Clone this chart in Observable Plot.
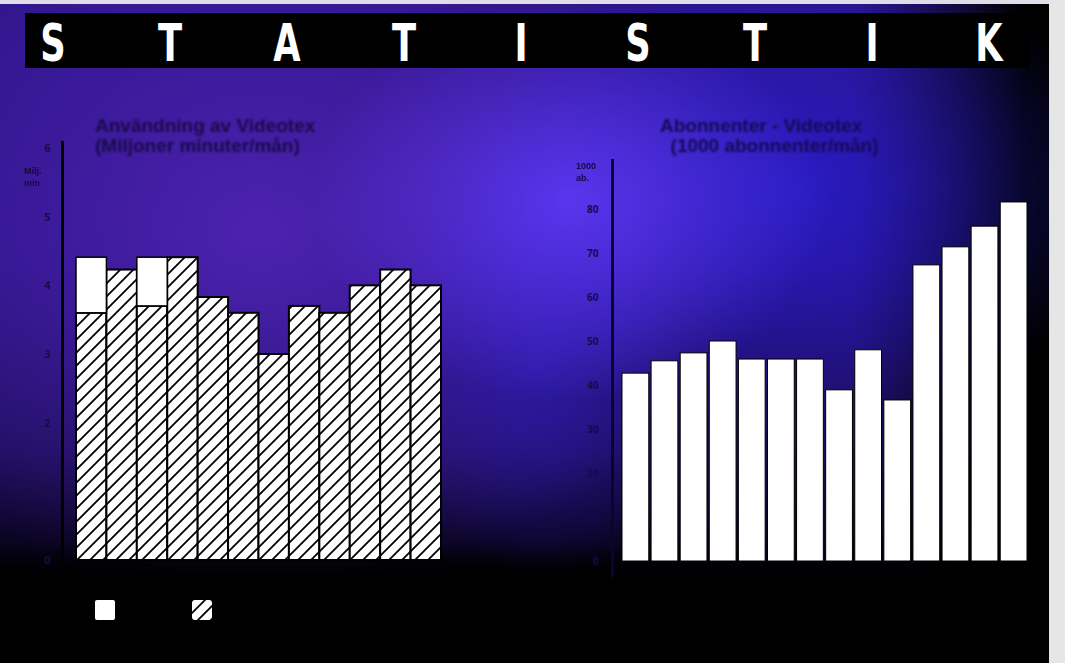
<!DOCTYPE html>
<html>
<head>
<meta charset="utf-8">
<script src="https://cdn.jsdelivr.net/npm/d3@7"></script>
<script src="https://cdn.jsdelivr.net/npm/@observablehq/plot@0.6"></script>
<style>
  html, body { margin: 0; padding: 0; background: #000; }
  #page {
    position: relative; width: 1065px; height: 663px; overflow: hidden;
    font-family: "Liberation Sans", Arial, sans-serif;
    background:
      radial-gradient(ellipse 260px 200px at 570px 200px, rgba(100,60,255,0.8), rgba(100,60,255,0) 100%),
      radial-gradient(ellipse 150px 220px at 540px 360px, rgba(45,30,200,0.55), rgba(45,30,200,0) 100%),
      radial-gradient(ellipse 330px 240px at 790px 190px, rgba(40,30,215,0.75), rgba(40,30,215,0) 100%),
      radial-gradient(ellipse 480px 360px at 260px 230px, rgba(80,36,180,0.9), rgba(80,36,180,0) 100%),
      linear-gradient(to right, rgba(0,0,0,0) 0%, rgba(0,0,0,0) 80%, rgba(0,0,0,1) 96%),
      linear-gradient(to bottom, #2c1488 0%, #261080 40%, #1c0c58 68%, #0c0528 80%, #020108 87%, #000 100%);
  }
  #bottom { position: absolute; left: 0; top: 545px; width: 1065px; height: 118px;
            background: linear-gradient(to bottom, rgba(0,0,0,0) 0%, rgba(0,0,0,0.9) 25%, #000 45%, #000 100%); }
  #edgeR { position: absolute; left: 1049px; top: 0; width: 16px; height: 663px; background: #e6e6e6; }
  #edgeT { position: absolute; left: 0; top: 0; width: 1065px; height: 4px; background: #e0dde8; }
  #bar { position: absolute; left: 25px; top: 13px; width: 1005px; height: 55px; background: #000; }
  .L { position: absolute; top: 17px; color: #fff; font: bold 52px "DejaVu Sans", sans-serif;
       transform: translateX(-50%) scaleX(0.68); line-height: 1; }
  .title { position: absolute; color: #1a0a4a; font: bold 19px "Liberation Sans", Arial, sans-serif;
           line-height: 20px; filter: blur(0.9px); white-space: nowrap; }
  .unit { position: absolute; color: #160a3a; font: bold 9px "Liberation Sans", Arial, sans-serif;
          line-height: 12px; filter: blur(0.5px); }
  .plot { position: absolute; }
  .leg { position: absolute; width: 20px; height: 20px; border-radius: 2px; }
</style>
</head>
<body>
<div id="page">
  <div id="bottom"></div>
  <div id="edgeT"></div>
  <div id="bar"></div>
  <div id="edgeR"></div>
  <div id="letters"></div>
  <div class="title" style="left:95px; top:116px;">Användning av Videotex<br>(Miljoner minuter/mån)</div>
  <div class="title" style="left:660px; top:116px; color:#150a55;">Abonnenter - Videotex<br>&nbsp;&nbsp;(1000 abonnenter/mån)</div>
  <div class="unit" style="left:24px; top:165px;">Milj.<br>min</div>
  <div class="unit" style="left:576px; top:160px; color:#120a45;">1000<br>ab.</div>
  <div id="left" class="plot" style="left:0px; top:130px;"></div>
  <div id="right" class="plot" style="left:560px; top:140px;"></div>
  <div class="leg" style="left:95px; top:600px; background:#fff;"></div>
  <div id="leg2" class="leg" style="left:192px; top:600px;"></div>
</div>
<script>
// ---- data ----
const titleLetters = ["S","T","A","T","I","S","T","I","K"];

const leftCategories = ["jan","feb","mar","apr","maj","jun","jul","aug","sep","okt","nov","dec"];
const leftHatched = [3.6, 4.23, 3.7, 4.41, 3.83, 3.6, 3.0, 3.7, 3.6, 4.0, 4.23, 4.0];
const leftWhite   = [0.81, 0, 0.71, 0, 0, 0, 0, 0, 0, 0, 0, 0];
const leftTicks = [0, 1, 2, 3, 4, 5, 6];

const rightCategories = ["1","2","3","4","5","6","7","8","9","10","11","12","13","14"];
const rightValues = [42.7, 45.5, 47.3, 50.0, 45.9, 45.9, 45.9, 38.9, 48.0, 36.6, 67.3, 71.4, 76.1, 81.6];
const rightTicks = [0, 10, 20, 30, 40, 50, 60, 70, 80];

// ---- title letters ----
const lettersDiv = document.getElementById("letters");
titleLetters.forEach((ch, i) => {
  const s = document.createElement("span");
  s.className = "L";
  s.textContent = ch;
  s.style.left = (53 + 117 * i) + "px";
  lettersDiv.appendChild(s);
});

function addHatch(svg, id) {
  const defs = d3.select(svg).insert("defs", ":first-child");
  const p = defs.append("pattern").attr("id", id).attr("patternUnits", "userSpaceOnUse")
    .attr("width", 13).attr("height", 13);
  p.append("rect").attr("width", 13).attr("height", 13).attr("fill", "#fff");
  p.append("path").attr("d", "M-2,15 L15,-2 M-6,6 L6,-6 M7,19 L19,7")
    .attr("stroke", "#000").attr("stroke-width", 1.8);
}

// ---- left chart ----
const leftData = leftCategories.map((m, i) => ({month: m, hatched: leftHatched[i], white: leftWhite[i]}));

const leftPlot = Plot.plot({
  width: 470, height: 450,
  marginLeft: 62, marginRight: 29, marginTop: 18, marginBottom: 20,
  style: {background: "transparent", overflow: "visible"},
  x: {domain: leftCategories, padding: 0, round: false, insetLeft: 14, axis: null},
  y: {domain: [0, 6], axis: null},
  marks: [
    Plot.barY(leftData, {x: "month", y1: 0, y2: "hatched", fill: "url(#hatchL)", stroke: "#000", strokeWidth: 2}),
    Plot.barY(leftData.filter(d => d.white > 0), {x: "month", y1: "hatched", y2: d => d.hatched + d.white, fill: "#fff", stroke: "#000", strokeWidth: 1.5}),
    Plot.axisY({ticks: leftTicks, tickFormat: d => String(d), tickSize: 0, tickPadding: 12, fill: "#1a0c48", fontSize: 11, fontWeight: "bold", label: null}),
    Plot.frame({anchor: "left", stroke: "#000", strokeWidth: 3, insetTop: -6})
  ]
});
addHatch(leftPlot, "hatchL");
document.getElementById("left").appendChild(leftPlot);

// legend hatched swatch
const legSvg = d3.create("svg").attr("width", 20).attr("height", 20).node();
addHatch(legSvg, "hatchLeg");
d3.select(legSvg).append("rect").attr("width", 20).attr("height", 20).attr("rx", 3).attr("fill", "url(#hatchLeg)");
document.getElementById("leg2").appendChild(legSvg);

// ---- right chart ----
const rightData = rightCategories.map((c, i) => ({period: c, value: rightValues[i]}));

const rightPlot = Plot.plot({
  width: 505, height: 440,
  marginLeft: 52, marginRight: 38, marginTop: 25, marginBottom: 19,
  style: {background: "transparent", overflow: "visible"},
  x: {domain: rightCategories, paddingInner: 0.08, paddingOuter: 0, round: false, insetLeft: 10, axis: null},
  y: {domain: [0, 90], axis: null},
  marks: [
    Plot.barY(rightData, {x: "period", y: "value", fill: "#fff", stroke: "#000", strokeWidth: 1}),
    Plot.axisY({ticks: rightTicks, tickSize: 0, tickPadding: 14, fill: "#140a50", fontSize: 10, fontWeight: "bold", label: null}),
    Plot.frame({anchor: "left", stroke: "#0a0530", strokeWidth: 3, insetTop: -5, insetBottom: -14})
  ]
});
document.getElementById("right").appendChild(rightPlot);
</script>
</body>
</html>
